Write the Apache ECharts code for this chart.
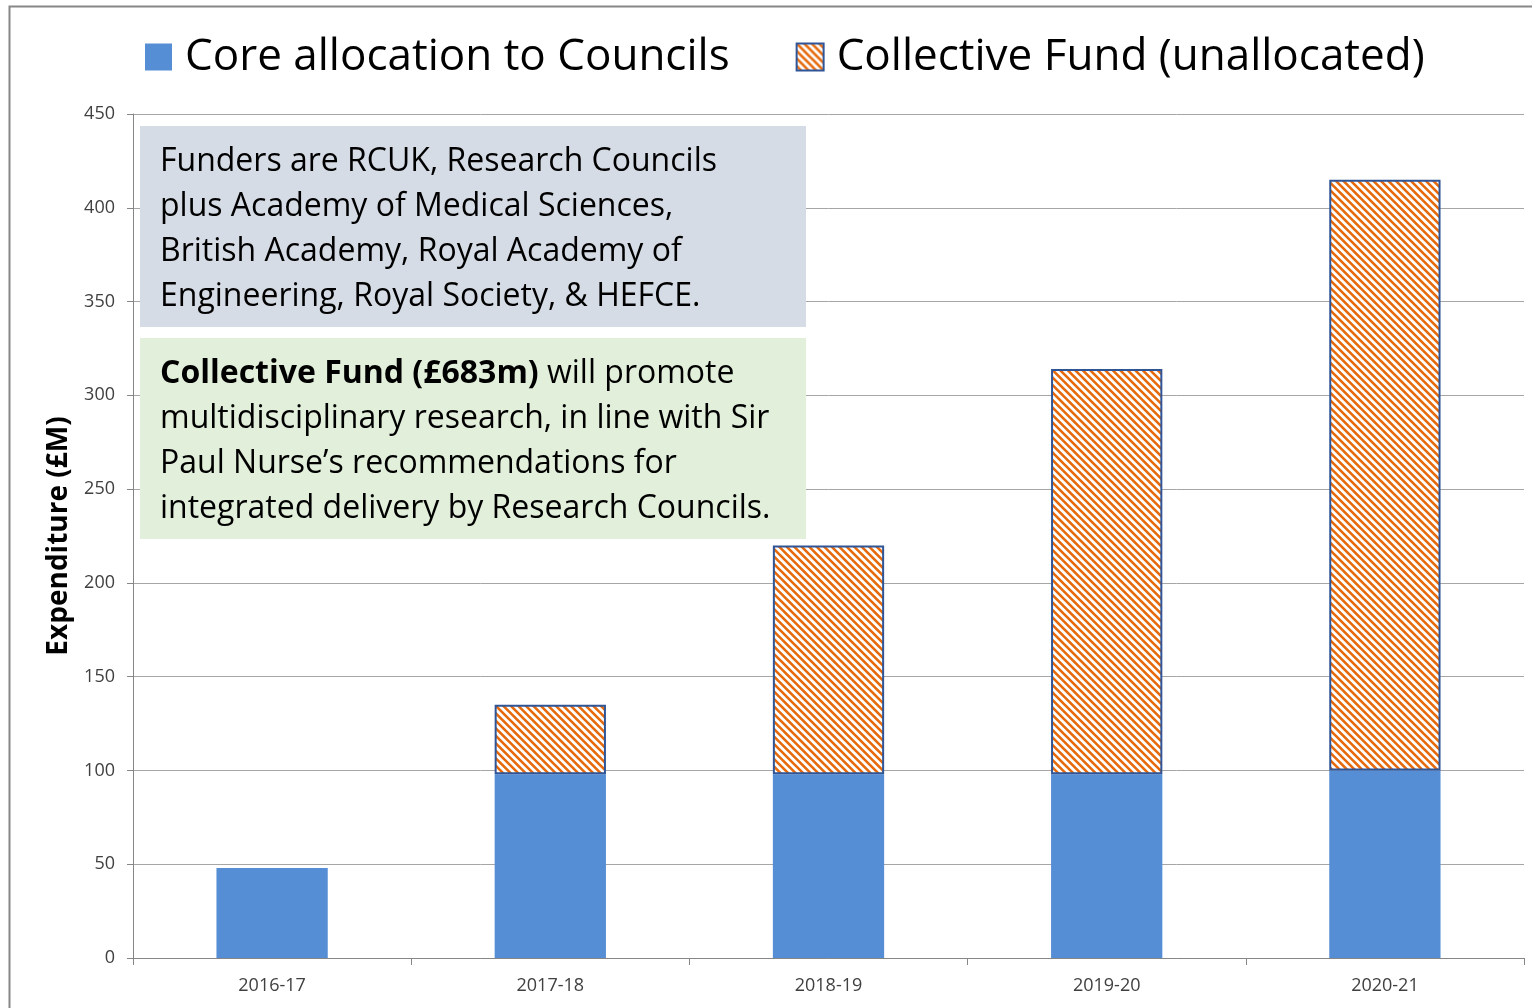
<!DOCTYPE html>
<html>
<head>
<meta charset="utf-8">
<script src="https://cdn.jsdelivr.net/npm/echarts@6/dist/echarts.min.js"></script>
<style>
html,body{margin:0;padding:0;background:#fff;}
#chart{width:1532px;height:1008px;}
</style>
</head>
<body>
<div id="chart"></div>
<script>
const categories = ['2016-17', '2017-18', '2018-19', '2019-20', '2020-21'];
const coreAllocation = [48, 98, 98, 98, 100];
const collectiveFund = [null, 37, 122, 216, 315];
const seriesNames = ['Core allocation to Councils', 'Collective Fund (unallocated)'];
const yAxisName = 'Expenditure (£M)';
const funderLines = [
  'Funders are RCUK, Research Councils',
  'plus Academy of Medical Sciences,',
  'British Academy, Royal Academy of',
  'Engineering, Royal Society, & HEFCE.'
];
const collectiveBold = 'Collective Fund (£683m)';
const collectiveLines = [
  ' will promote',
  'multidisciplinary research, in line with Sir',
  'Paul Nurse\u2019s recommendations for',
  'integrated delivery by Research Councils.'
];

function makeHatch() {
  const s = 15, p = 7.5;
  const c = document.createElement('canvas');
  c.width = s; c.height = s;
  const g = c.getContext('2d');
  g.fillStyle = '#ffffff';
  g.fillRect(0, 0, s, s);
  g.strokeStyle = '#e66a0c';
  g.lineWidth = 2.6;
  g.beginPath();
  for (let k = -3; k <= 3; k++) {
    g.moveTo(-2, k * p - 2);
    g.lineTo(s + 2, s + k * p + 2);
  }
  g.stroke();
  return c;
}
const hatch = makeHatch();
const FONT = '"Open Sans", sans-serif';

const chart = echarts.init(document.getElementById('chart'), null, {renderer: 'canvas'});
chart.setOption({
  backgroundColor: '#ffffff',
  animation: false,
  textStyle: {fontFamily: FONT},
  grid: {left: 133, right: 8, top: 114, bottom: 50, containLabel: false},
  legend: {
    left: 140, top: 29,
    itemWidth: 27, itemHeight: 27, itemGap: 66,
    icon: 'rect',
    textStyle: {fontSize: 44, lineHeight: 46, color: '#000', fontFamily: FONT, padding: [0, 0, 0, 8]},
    data: seriesNames
  },
  xAxis: {
    type: 'category',
    data: categories,
    axisLine: {lineStyle: {color: '#868686', width: 1}},
    axisTick: {show: true, length: 7, lineStyle: {color: '#868686'}},
    axisLabel: {fontSize: 18, color: '#404040', margin: 19, fontFamily: FONT}
  },
  yAxis: {
    type: 'value',
    min: 0, max: 450, interval: 50,
    name: yAxisName,
    nameLocation: 'middle',
    nameRotate: 90,
    nameGap: 60,
    nameTextStyle: {fontSize: 28, fontWeight: 'bold', color: '#000', fontFamily: FONT},
    axisLine: {show: true, lineStyle: {color: '#868686'}},
    axisTick: {show: true, length: 6, lineStyle: {color: '#868686'}},
    axisLabel: {fontSize: 18, color: '#404040', margin: 18, fontFamily: FONT},
    splitLine: {lineStyle: {color: '#a6a6a6', width: 1}}
  },
  series: [
    {
      name: seriesNames[0], type: 'bar', stack: 'total',
      data: coreAllocation, barWidth: '40%',
      itemStyle: {color: '#558ed5'}
    },
    {
      name: seriesNames[1], type: 'bar', stack: 'total',
      data: collectiveFund, barWidth: '40%',
      itemStyle: {color: {image: hatch, repeat: 'repeat'}, borderColor: '#2f5597', borderWidth: 2}
    }
  ],
  graphic: [
    {type: 'rect', left: 7, top: 4, z: 100, silent: true,
     shape: {width: 1540, height: 1020}, style: {fill: 'none', stroke: '#878787', lineWidth: 2}},
    {type: 'rect', left: 140, top: 126, z: 50,
     shape: {width: 666, height: 201}, style: {fill: '#d6dce5'}},
    {type: 'text', left: 160, top: 139, z: 51,
     style: {text: funderLines.join('\n'), fontSize: 32, lineHeight: 45, fill: '#000', fontFamily: FONT}},
    {type: 'rect', left: 140, top: 338, z: 50,
     shape: {width: 666, height: 201}, style: {fill: '#e2efda'}},
    {type: 'text', left: 160, top: 351, z: 51,
     style: {
       text: '{b|' + collectiveBold + '}' + collectiveLines.join('\n'),
       rich: {b: {fontWeight: 'bold', fontSize: 32, lineHeight: 45, fontFamily: FONT, fill: '#000'}},
       fontSize: 32, lineHeight: 45, fill: '#000', fontFamily: FONT
     }}
  ]
});
</script>
</body>
</html>
